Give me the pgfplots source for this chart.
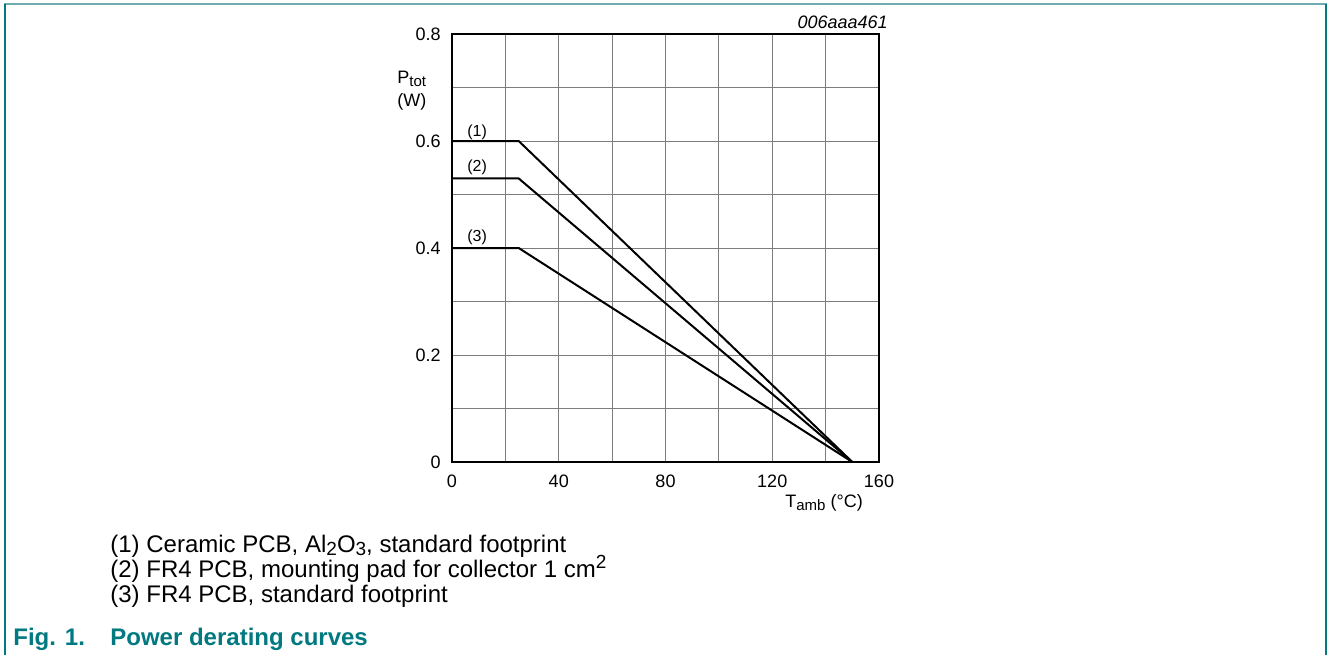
\documentclass[border=0pt]{standalone}
\usepackage{fontspec}
\setmainfont{Liberation Sans}
\usepackage{pgfplots}
\pgfplotsset{compat=1.18}
\definecolor{nxpteal}{RGB}{0,122,128}
\definecolor{framelight}{RGB}{110,172,176}
\definecolor{gridgray}{RGB}{125,125,125}
% sub/superscripts sized like the reference (larger than \textsubscript)
\newcommand\lowr[3]{\raisebox{-#2}{\fontsize{#3}{#3}\selectfont #1}}
\newcommand\highr[3]{\raisebox{#2}{\fontsize{#3}{#3}\selectfont #1}}

\begin{document}
\begin{tikzpicture}
\useasboundingbox (0,0) rectangle (664pt,-327.5pt);
% frame
\draw[framelight, line width=0.6pt] (2pt,-2pt) -- (663.5pt,-2pt);
\draw[nxpteal, line width=1pt] (2.5pt,-327.5pt) -- (2.5pt,-2pt);
\draw[nxpteal, line width=1pt] (663pt,-327.5pt) -- (663pt,-2pt);

\begin{axis}[
    at={(226pt,-231pt)}, anchor=south west,
    scale only axis, width=213.5pt, height=214pt,
    xmin=0, xmax=160, ymin=0, ymax=0.8,
    xtick={0,40,80,120,160},
    ytick={0,0.2,0.4,0.6,0.8},
    yticklabels={0,0.2,0.4,0.6,0.8},
    minor xtick={20,60,100,140},
    minor ytick={0.1,0.3,0.5,0.7},
    grid=both,
    major grid style={gridgray, line width=0.5pt},
    minor grid style={gridgray, line width=0.5pt},
    major tick length=0pt, minor tick length=0pt,
    axis line style={black, line width=0.75pt},
    tick label style={font=\fontsize{9}{10}\selectfont},
    yticklabel style={anchor=east, inner sep=0pt, xshift=-5.5pt},
    xticklabel style={anchor=north, inner sep=0pt, yshift=-6.5pt},
    /pgf/number format/assume math mode=true,
]
\addplot[black, line width=1pt] coordinates {(0,0.6) (25,0.6) (150,0)};
\addplot[black, line width=1pt] coordinates {(0,0.53) (25,0.53) (150,0)};
\addplot[black, line width=1pt] coordinates {(0,0.4) (25,0.4) (150,0)};
\node[font=\fontsize{8}{9}\selectfont] at (axis cs:9.4,0.617) {(1)};
\node[font=\fontsize{8}{9}\selectfont] at (axis cs:9.4,0.551) {(2)};
\node[font=\fontsize{8}{9}\selectfont] at (axis cs:9.4,0.42) {(3)};
\end{axis}

% axis titles
\node[anchor=base west, inner sep=0pt, font=\fontsize{9}{10}\selectfont] at (198.5pt,-41.5pt) {P\lowr{tot}{1.6pt}{7.5}};
\node[anchor=base west, inner sep=0pt, font=\fontsize{9}{10}\selectfont] at (198.5pt,-53pt) {(W)};
\node[anchor=base west, inner sep=0pt, font=\fontsize{9}{10}\selectfont] at (392.5pt,-253.5pt) {T\lowr{amb}{1.6pt}{7.5} (°C)};
\node[anchor=base east, inner sep=0pt, font=\fontsize{9}{10}\selectfont\itshape] at (444pt,-14pt) {006aaa461};

% notes
\node[anchor=base west, inner sep=0pt, font=\fontsize{12}{13}\selectfont] at (55pt,-276pt) {(1) Ceramic PCB, Al\lowr{2}{1.8pt}{9.5}O\lowr{3}{1.8pt}{9.5}, standard footprint};
\node[anchor=base west, inner sep=0pt, font=\fontsize{12}{13}\selectfont] at (55pt,-288.5pt) {(2) FR4 PCB, mounting pad for collector 1 cm\highr{2}{4.5pt}{9.5}};
\node[anchor=base west, inner sep=0pt, font=\fontsize{12}{13}\selectfont] at (55pt,-301pt) {(3) FR4 PCB, standard footprint};

% caption
\node[anchor=base west, inner sep=0pt, font=\fontsize{12}{13}\selectfont\bfseries, text=nxpteal] at (6.5pt,-322.5pt) {Fig. 1.};
\node[anchor=base west, inner sep=0pt, font=\fontsize{12}{13}\selectfont\bfseries, text=nxpteal] at (55pt,-322.5pt) {Power derating curves};
\end{tikzpicture}
\end{document}
